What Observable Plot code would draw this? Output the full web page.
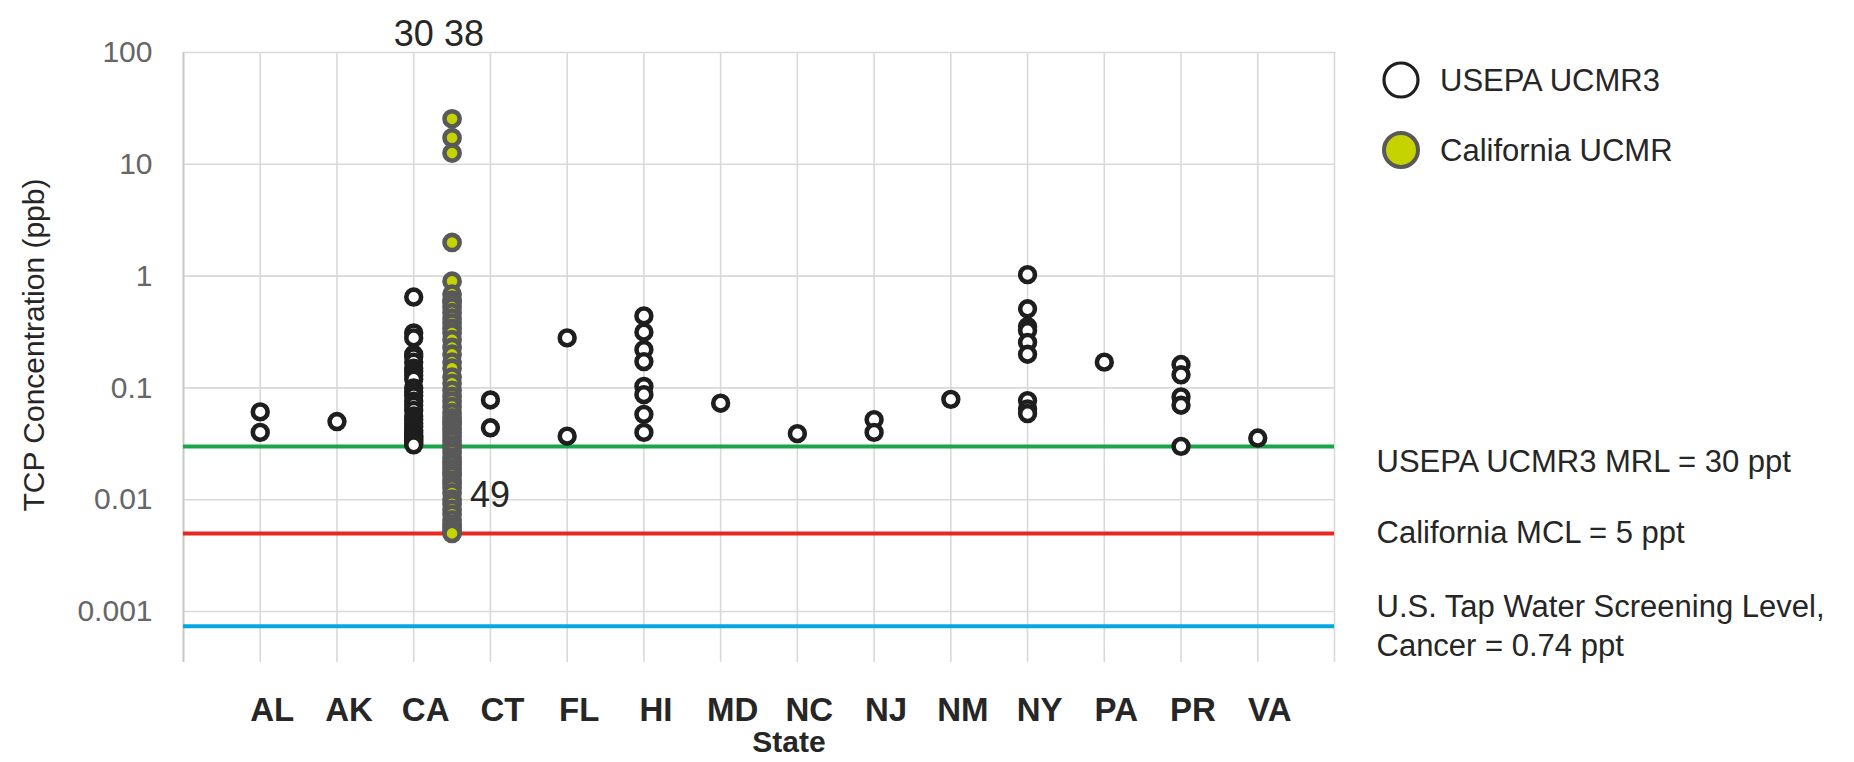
<!DOCTYPE html>
<html>
<head>
<meta charset="utf-8">
<script src="https://cdn.jsdelivr.net/npm/d3@7"></script>
<script src="https://cdn.jsdelivr.net/npm/@observablehq/plot@0.6"></script>
<style>
  html, body { margin: 0; padding: 0; background: #fff; }
  #chart svg { display: block; }
</style>
</head>
<body>
<div id="chart"></div>
<script>
// States along the x axis
const states = ["AL", "AK", "CA", "CT", "FL", "HI", "MD", "NC", "NJ", "NM", "NY", "PA", "PR", "VA"];

// USEPA UCMR3 TCP detections per state (ppb)
const AL = [0.061, 0.040];
const AK = [0.050];
const CA = [0.65, 0.31, 0.28, 0.20, 0.19, 0.17, 0.15, 0.14, 0.13, 0.12, 0.10, 0.092,
            0.085, 0.076, 0.070, 0.063, 0.056, 0.052, 0.048, 0.045, 0.042, 0.040,
            0.038, 0.037, 0.036, 0.035, 0.034, 0.033, 0.032, 0.031];
const CT = [0.078, 0.044];
const FL = [0.28, 0.037];
const HI = [0.44, 0.315, 0.22, 0.172, 0.103, 0.087, 0.058, 0.040];
const MD = [0.073];
const NC = [0.039];
const NJ = [0.052, 0.040];
const NM = [0.079];
const NY = [1.03, 0.51, 0.354, 0.326, 0.255, 0.20, 0.077, 0.065, 0.059];
const PA = [0.17];
const PR = [0.162, 0.131, 0.083, 0.070, 0.030];
const VA = [0.0356];
const usepaByState = [AL, AK, CA, CT, FL, HI, MD, NC, NJ, NM, NY, PA, PR, VA];

// California UCMR TCP detections (ppb)
const californiaUCMR = [25.5, 17.3, 12.6, 2.0, 0.90, 0.69, 0.61, 0.58, 0.53, 0.47, 0.42,
  0.38, 0.34, 0.31, 0.27, 0.23, 0.20, 0.17, 0.15, 0.125, 0.11, 0.095, 0.084, 0.076,
  0.068, 0.060, 0.054, 0.050, 0.047, 0.0435, 0.040, 0.037, 0.034, 0.031, 0.029,
  0.0266, 0.024, 0.022, 0.0208, 0.019, 0.0175, 0.0165, 0.015, 0.014, 0.0128, 0.0115,
  0.0101, 0.0092, 0.0082, 0.0074, 0.0066, 0.0060, 0.0056, 0.0052, 0.0050];

// Regulatory / screening levels (ppb) and their labels
const levelValues = [0.03, 0.005, 0.00074];
const levelLabels = ["USEPA UCMR3 MRL = 30 ppt", "California MCL = 5 ppt",
                     "U.S. Tap Water Screening Level,\nCancer = 0.74 ppt"];

// Log axis ticks
const yTicks = [0.001, 0.01, 0.1, 1, 10, 100];
const yTickLabels = ["0.001", "0.01", "0.1", "1", "10", "100"];

// Count annotations
const countLabels = ["30", "38", "49"];

const seriesNames = ["USEPA UCMR3", "California UCMR"];
const yTitle = "TCP Concentration (ppb)";
const xTitle = "State";

// Rows for the marks
const usepaRows = states.flatMap((s, i) => usepaByState[i].map(v => ({state: s, x: i + 1, v})));
const caRows = californiaUCMR.map(v => ({x: 3.5, v}));

const font = "'Liberation Sans', Arial, Helvetica, sans-serif";
const dark = "#262626";

const chart = Plot.plot({
  width: 1854,
  height: 762,
  marginLeft: 183,
  marginRight: 520,
  marginTop: 52,
  marginBottom: 100,
  style: {fontFamily: font, background: "#fff", overflow: "visible"},
  x: {type: "linear", domain: [0, 15]},
  y: {type: "log", domain: [0.00035, 100]},
  marks: [
    // grid
    Plot.gridX(d3.range(0, 16), {stroke: "#d9d9d9", strokeOpacity: 1, strokeWidth: 1.6}),
    Plot.gridY(yTicks, {stroke: "#d9d9d9", strokeOpacity: 1, strokeWidth: 1.6}),
    Plot.ruleX([0], {stroke: "#c8c8c8", strokeWidth: 1.8}),

    // axes
    Plot.axisY(yTicks, {
      tickSize: 0, tickPadding: 31, fontSize: 30, fill: "#666", label: null,
      tickFormat: d => yTickLabels[yTicks.indexOf(d)]
    }),
    Plot.axisX(d3.range(1, states.length + 1), {
      tickSize: 0, tickPadding: 35, fontSize: 33, fontWeight: "bold", fill: dark, dx: 12, label: null,
      tickFormat: d => states[d - 1]
    }),
    Plot.text([xTitle], {
      frameAnchor: "bottom", dx: 30, dy: 89, fontSize: 30, fontWeight: "bold", fill: dark
    }),

    // level lines
    Plot.ruleY([levelValues[0]], {stroke: "#19a64a", strokeWidth: 4}),
    Plot.ruleY([levelValues[1]], {stroke: "#e8281e", strokeWidth: 4}),
    Plot.ruleY([levelValues[2]], {stroke: "#06a7e0", strokeWidth: 4}),

    // level labels at right
    Plot.text([0], {x: 15, y: () => levelValues[0], text: () => levelLabels[0],
      textAnchor: "start", dx: 42, dy: 16, fontSize: 31, fill: dark}),
    Plot.text([1], {x: 15, y: () => levelValues[1], text: () => levelLabels[1],
      textAnchor: "start", dx: 42, dy: 0, fontSize: 31, fill: dark}),
    Plot.text([2], {x: 15, y: () => levelValues[2], text: () => levelLabels[2],
      textAnchor: "start", dx: 42, dy: -2, fontSize: 31, lineHeight: 1.26, fill: dark}),

    // detections
    Plot.dot(usepaRows, {x: "x", y: "v", r: 7.4, fill: "#fff", stroke: "#1e1e1e", strokeWidth: 4.6}),
    Plot.dot(caRows, {x: "x", y: "v", r: 7.6, fill: "#c5d300", stroke: "#595959", strokeWidth: 4.6}),

    // counts
    Plot.text([countLabels[0]], {x: 3, y: 100, dy: -18, fontSize: 36, fill: dark}),
    Plot.text([countLabels[1]], {x: 3.5, y: 100, dx: 12, dy: -18, fontSize: 36, fill: dark}),
    Plot.text([countLabels[2]], {x: 3.5, y: 0.011, dx: 18, textAnchor: "start", fontSize: 36, fill: dark})
  ]
});

const svg = d3.select(chart);

// Rotated y-axis title
svg.append("text")
  .attr("transform", "translate(33,345) rotate(-90)")
  .attr("text-anchor", "middle")
  .attr("dy", "0.35em")
  .attr("font-family", font)
  .attr("font-size", 30)
  .attr("fill", dark)
  .text(yTitle);

// Legend at the top right of the plot frame
const legend = svg.append("g").attr("font-family", font).attr("text-anchor", "start");
const legendStyles = [
  {fill: "#fff", stroke: "#1e1e1e", width: 3.2},
  {fill: "#c5d300", stroke: "#595959", width: 4}
];
seriesNames.forEach((name, i) => {
  const cy = 80 + i * 70;
  legend.append("circle")
    .attr("cx", 1401).attr("cy", cy).attr("r", 17)
    .attr("fill", legendStyles[i].fill).attr("stroke", legendStyles[i].stroke)
    .attr("stroke-width", legendStyles[i].width);
  legend.append("text")
    .attr("x", 1440).attr("y", cy).attr("dy", "0.35em")
    .attr("font-size", 31).attr("fill", dark)
    .text(name);
});

document.getElementById("chart").appendChild(chart);
</script>
</body>
</html>
